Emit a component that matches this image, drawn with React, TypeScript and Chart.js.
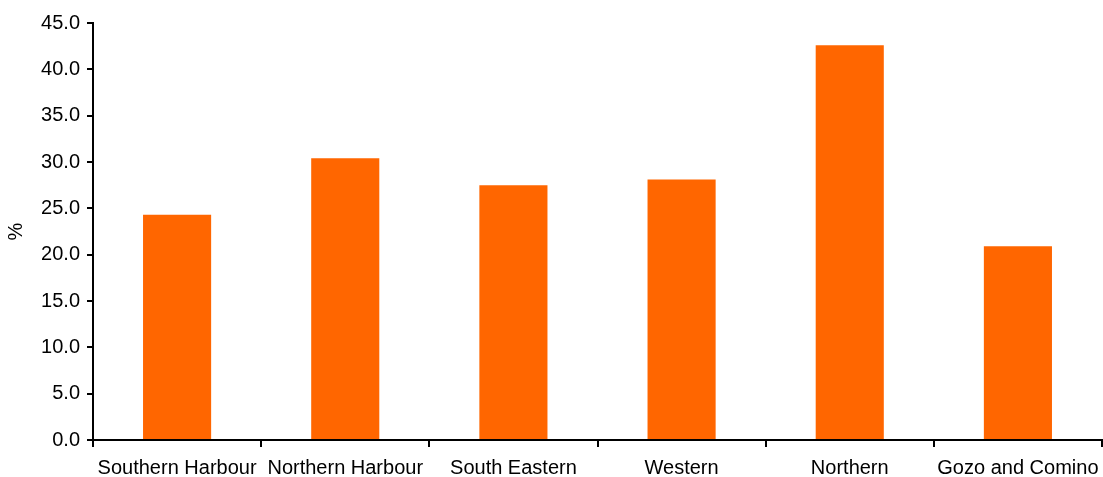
import React, { useEffect, useRef } from "react";
import { Chart, registerables } from "chart.js";

Chart.register(...registerables);

const categories = [
  "Southern Harbour",
  "Northern Harbour",
  "South Eastern",
  "Western",
  "Northern",
  "Gozo and Comino",
];
const values = [24.3, 30.4, 27.5, 28.1, 42.6, 20.9];
const yTickStep = 5;
const yMin = 0;
const yMax = 45;
const yTitle = "%";

const FONT = "'Liberation Sans', Arial, Helvetica, sans-serif";

export default function App() {
  const ref = useRef<HTMLCanvasElement | null>(null);

  useEffect(() => {
    if (!ref.current) return;
    const chart = new Chart(ref.current, {
      type: "bar",
      data: {
        labels: categories,
        datasets: [
          {
            data: values,
            backgroundColor: "#FF6600",
            borderWidth: 0,
            barPercentage: 0.405,
            categoryPercentage: 1,
          },
        ],
      },
      options: {
        responsive: false,
        animation: false,
        layout: { padding: { top: 23, right: 1, left: 0, bottom: 0 } },
        plugins: {
          legend: { display: false },
          tooltip: { enabled: false },
        },
        scales: {
          x: {
            grid: {
              display: true,
              drawOnChartArea: false,
              drawTicks: true,
              tickLength: 7,
              color: "#000",
              lineWidth: 2,
              offset: true,
            },
            border: { display: true, color: "#000", width: 2 },
            ticks: {
              color: "#000",
              font: { family: FONT, size: 20 },
              maxRotation: 0,
              minRotation: 0,
              autoSkip: false,
              padding: 9,
            },
            afterFit: (scale: any) => {
              scale.height = 37;
              scale.paddingLeft = 0;
              scale.paddingRight = 0;
            },
          },
          y: {
            min: yMin,
            max: yMax,
            grid: {
              display: true,
              drawOnChartArea: false,
              drawTicks: true,
              tickLength: 6,
              color: "#000",
              lineWidth: 2,
            },
            border: { display: true, color: "#000", width: 2 },
            ticks: {
              stepSize: yTickStep,
              color: "#000",
              font: { family: FONT, size: 20 },
              padding: 7,
              callback: (v: any) => Number(v).toFixed(1),
            },
            title: {
              display: true,
              text: yTitle,
              color: "#000",
              font: { family: FONT, size: 20 },
              padding: { top: 4, bottom: 4 },
            },
            afterFit: (scale: any) => {
              scale.width = 93;
            },
          },
        },
      },
    });
    return () => chart.destroy();
  }, []);

  return (
    <div
      style={{
        position: "fixed",
        left: 0,
        top: 0,
        width: 1103,
        height: 477,
        background: "#fff",
      }}
    >
      <canvas ref={ref} width={1103} height={477} />
    </div>
  );
}
